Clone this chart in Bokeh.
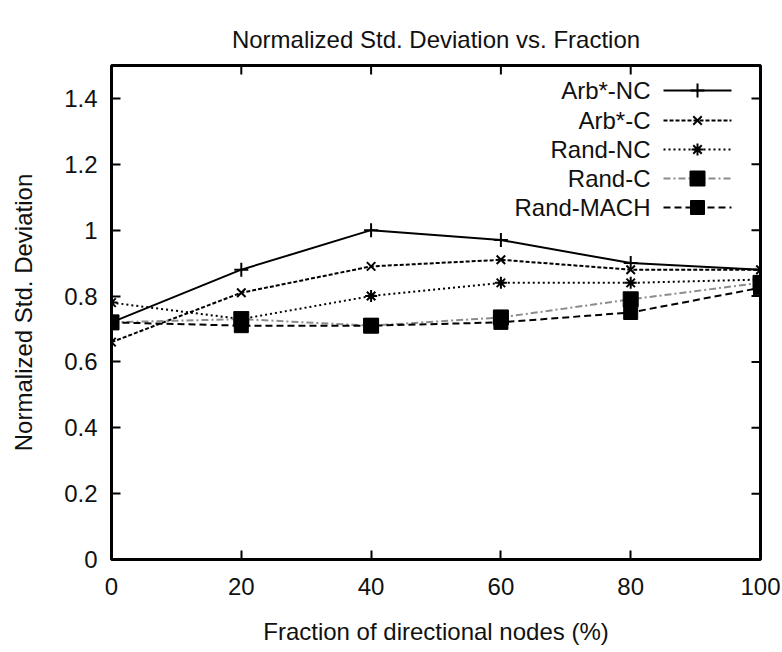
from bokeh.plotting import figure
from bokeh.models import FixedTicker, Range1d, Label, CustomJSTickFormatter
from bokeh.embed import file_html
from bokeh.resources import INLINE

# ---- data -------------------------------------------------------------
fraction = [0, 20, 40, 60, 80, 100]
arb_nc = [0.72, 0.88, 1.00, 0.97, 0.90, 0.88]
arb_c = [0.66, 0.81, 0.89, 0.91, 0.88, 0.88]
rand_nc = [0.78, 0.73, 0.80, 0.84, 0.84, 0.85]
rand_c = [0.72, 0.73, 0.71, 0.735, 0.79, 0.84]
rand_mach = [0.72, 0.71, 0.71, 0.72, 0.75, 0.825]

x_ticks = [0, 20, 40, 60, 80, 100]
y_ticks = [0, 0.2, 0.4, 0.6, 0.8, 1.0, 1.2, 1.4]
y_tick_labels = ["0", "0.2", "0.4", "0.6", "0.8", "1", "1.2", "1.4"]

series_names = ["Arb*-NC", "Arb*-C", "Rand-NC", "Rand-C", "Rand-MACH"]

# ---- layout -------------------------------------------------------------
W, H = 782, 652
LEFT, RIGHT, TOP, BOTTOM = 111, 22, 65, 93
FONT = "'Liberation Sans', Arial, Helvetica, sans-serif"
FS = "24px"
TICK_LEN = 9

X0, X1 = 0, 100
Y0, Y1 = 0, 1.5

p = figure(width=W, height=H, output_backend="svg", toolbar_location=None,
           x_range=Range1d(X0, X1), y_range=Range1d(Y0, Y1),
           min_border_left=LEFT, min_border_right=RIGHT,
           min_border_top=TOP, min_border_bottom=BOTTOM,
           x_axis_location="below", y_axis_location="left")

p.title.text = "Normalized Std. Deviation vs. Fraction"
p.title.align = "center"
p.title.text_font = FONT
p.title.text_font_size = FS
p.title.text_font_style = "normal"
p.title.text_color = "#111111"
p.title.standoff = 26

p.grid.visible = False
p.background_fill_color = "white"
p.border_fill_color = "white"
p.outline_line_color = "black"
p.outline_line_width = 3

yfmt = CustomJSTickFormatter(
    args=dict(tick_values=y_ticks, tick_labels=y_tick_labels), code="""
    for (let i = 0; i < tick_values.length; i++) {
        if (Math.abs(tick_values[i] - tick) < 1e-9) return tick_labels[i];
    }
    return "";
""")


def style_axis(ax, ticks):
    ax.ticker = FixedTicker(ticks=ticks)
    ax.axis_line_color = None
    ax.major_tick_in = TICK_LEN
    ax.major_tick_out = 0
    ax.major_tick_line_width = 2
    ax.major_tick_line_color = "black"
    ax.minor_tick_line_color = None
    ax.major_label_text_font = FONT
    ax.major_label_text_color = "#111111"
    ax.major_label_text_font_size = FS
    ax.axis_label_text_font = FONT
    ax.axis_label_text_font_size = FS
    ax.axis_label_text_font_style = "normal"
    ax.axis_label_text_color = "#111111"


xa = p.xaxis[0]
style_axis(xa, x_ticks)
xa.major_label_standoff = 18
xa.axis_label = "Fraction of directional nodes (%)"
xa.axis_label_standoff = 20

ya = p.yaxis[0]
style_axis(ya, y_ticks)
ya.formatter = yfmt
ya.major_label_standoff = 14
ya.axis_label = "Normalized Std. Deviation"
ya.axis_label_standoff = 24

frame_w = W - LEFT - RIGHT
frame_h = H - TOP - BOTTOM


def px_to_x(px):
    return X0 + (px - LEFT) / frame_w * (X1 - X0)


def py_to_y(py):
    return Y0 + (H - BOTTOM - py) / frame_h * (Y1 - Y0)


# mirrored inward ticks on the top and right edges of the frame
dy_tick = TICK_LEN / frame_h * (Y1 - Y0)
dx_tick = TICK_LEN / frame_w * (X1 - X0)
top_x = x_ticks[1:-1]
p.segment(x0=top_x, y0=[Y1] * len(top_x), x1=top_x, y1=[Y1 - dy_tick] * len(top_x),
          line_color="black", line_width=2)
right_y = y_ticks[1:]
p.segment(x0=[X1] * len(right_y), y0=right_y, x1=[X1 - dx_tick] * len(right_y),
          y1=right_y, line_color="black", line_width=2)

# ---- series -------------------------------------------------------------
styles = [
    dict(y=arb_nc, color="black", dash="solid", marker="cross", size=14),
    dict(y=arb_c, color="black", dash="4 2", marker="x", size=12),
    dict(y=rand_nc, color="black", dash="2 3", marker="asterisk", size=12),
    dict(y=rand_c, color="#8c8c8c", dash="7 3 2 3", marker="square", size=15),
    dict(y=rand_mach, color="black", dash="7 4", marker="square", size=14),
]


def draw_marks(xs, ys, st):
    if st["marker"] == "square":
        p.scatter(xs, ys, marker="square", size=st["size"],
                  fill_color="black", line_color="black")
    else:
        p.scatter(xs, ys, marker=st["marker"], size=st["size"],
                  line_color="black", line_width=2, fill_color=None)


for name, st in zip(series_names, styles):
    p.line(fraction, st["y"], line_color=st["color"], line_width=2,
           line_dash=st["dash"])
    draw_marks(fraction, st["y"], st)

# ---- key (label on the left, sample on the right) --------------------------
key_rows_px = [90, 120, 149, 178, 207]
text_right_px = 650
sample_px = (663, 731)
marker_px = 697

for name, st, row in zip(series_names, styles, key_rows_px):
    ky = py_to_y(row)
    p.add_layout(Label(x=px_to_x(text_right_px), y=ky, text=name,
                       text_align="right", text_baseline="middle",
                       text_font=FONT, text_font_size=FS,
                       text_color="#111111"))
    p.line([px_to_x(sample_px[0]), px_to_x(sample_px[1])], [ky, ky],
           line_color=st["color"], line_width=2, line_dash=st["dash"])
    draw_marks([px_to_x(marker_px)], [ky], st)

open("out.html", "w").write(file_html(p, INLINE))
